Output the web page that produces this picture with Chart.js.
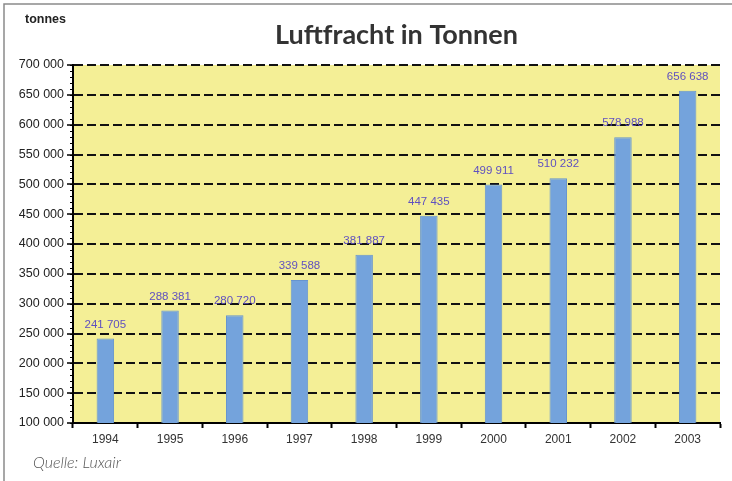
<!DOCTYPE html>
<html>
<head>
<meta charset="utf-8">
<script src="https://cdn.jsdelivr.net/npm/chart.js@4"></script>
<style>
  html, body { margin: 0; padding: 0; background: #fff; }
  #wrap { width: 732px; height: 481px; }
</style>
</head>
<body>
<div id="wrap"><canvas id="chart1" width="732" height="481"></canvas></div>
<script>
/* Data */
////////////////////////////////
const years = ['1994', '1995', '1996', '1997', '1998', '1999', '2000', '2001', '2002', '2003'];
const tonnes = [241705, 288381, 280720, 339588, 381887, 447435, 499911, 510232, 578988, 656638];
const yMin = 100000;
const yMax = 700000;
const yStep = 50000;

const titleText = 'Luftfracht in Tonnen';
const unitText = 'tonnes';
const sourceText = 'Quelle: Luxair';

// 241705 -> "241 705"
function fmt(v) {
	return String(v).replace(/\B(?=(\d{3})+(?!\d))/g, ' ');
}

/* yellow plot area, frame, texts, minor ticks, value labels */
/////////////////////////////////////////////////////////////////
const decor = {
	id: 'decor',
	beforeDraw(chart) {
		const c = chart.ctx, a = chart.chartArea;
		c.save();
		c.fillStyle = '#f4ef96';
		c.fillRect(a.left, a.top, a.right - a.left, a.bottom - a.top);
		// frame of the picture
		c.strokeStyle = '#8a8a8a';
		c.lineWidth = 1.5;
		c.beginPath();
		c.moveTo(4, 481);
		c.lineTo(4, 4);
		c.lineTo(732, 4);
		c.stroke();
		c.restore();
	},
	afterDraw(chart) {
		const c = chart.ctx, a = chart.chartArea;
		const y = chart.scales.y;
		c.save();
		// minor ticks on the y axis
		c.strokeStyle = '#000';
		c.lineWidth = 1;
		for (let v = yMin; v <= yMax; v += 10000) {
			const py = Math.round(y.getPixelForValue(v)) + 0.5;
			c.beginPath();
			c.moveTo(a.left - 3, py);
			c.lineTo(a.left, py);
			c.stroke();
		}
		// title
		c.fillStyle = '#333';
		c.font = 'bold 27px Lato';
		c.textAlign = 'center';
		c.textBaseline = 'middle';
		c.fillText(titleText, (a.left + a.right) / 2, 35);
		// unit
		c.font = 'bold 12.5px Arial';
		c.textAlign = 'left';
		c.fillStyle = '#222';
		c.fillText(unitText, 25, 20);
		// source
		c.font = 'italic 300 16px Lato';
		c.fillStyle = '#555';
		c.fillText(sourceText, 33, 463);
		c.restore();
	},
	afterDatasetsDraw(chart) {
		const c = chart.ctx;
		const meta = chart.getDatasetMeta(0);
		c.save();
		c.font = '11.5px Arial';
		c.fillStyle = '#5f50c0';
		c.textAlign = 'center';
		c.textBaseline = 'middle';
		meta.data.forEach((bar, i) => {
			c.fillText(fmt(tonnes[i]), bar.x, bar.y - 14);
		});
		c.restore();
	}
};

/* Chart */
////////////
const ctx1 = document.getElementById('chart1').getContext('2d');
const chart1 = new Chart(ctx1, {
	type: 'bar',
	data: {
		labels: years,
		datasets: [{
			data: tonnes,
			backgroundColor: '#74a3dc',
			borderColor: '#6694d0',
			borderWidth: 1,
			barPercentage: 0.27,
			categoryPercentage: 1,
		}],
	},
	options: {
		responsive: false,
		animation: false,
		layout: { padding: { top: 65, right: 12, left: 0, bottom: 0 } },
		scales: {
			x: {
				afterFit(scale) { scale.height = 58; },
				grid: {
					offset: true,
					drawOnChartArea: false,
					drawTicks: true,
					tickLength: 5,
					tickWidth: 2,
					tickColor: '#000',
				},
				border: { display: true, color: '#000', width: 2 },
				ticks: {
					color: '#333',
					font: { family: 'Arial', size: 12 },
					padding: 4,
				},
			},
			y: {
				min: yMin,
				max: yMax,
				afterFit(scale) { scale.width = 73; },
				grid: {
					color: '#111',
					lineWidth: 2,
					drawTicks: true,
					tickLength: 6,
					tickColor: '#000',
					tickWidth: 1.5,
				},
				border: { display: true, color: '#000', width: 2, dash: [9, 4] },
				ticks: {
					stepSize: yStep,
					color: '#222',
					font: { family: 'Arial', size: 12.5 },
					padding: 3,
					callback: (v) => fmt(v),
				},
			},
		},
		plugins: {
			legend: { display: false },
			tooltip: { enabled: false },
		},
	},
	plugins: [decor],
});
</script>
</body>
</html>
